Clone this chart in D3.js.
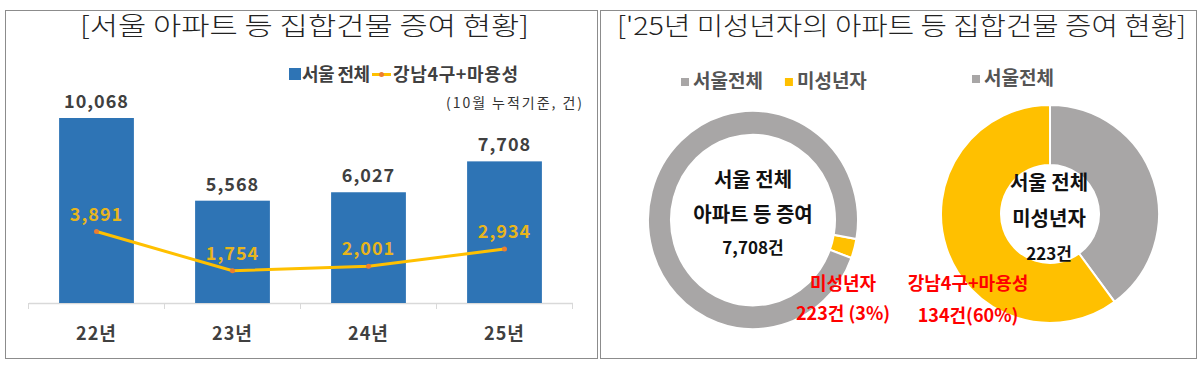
<!DOCTYPE html>
<html><head><meta charset="utf-8">
<script src="https://cdn.jsdelivr.net/npm/d3@7"></script>
<style>
html,body{margin:0;padding:0;background:#fff;}
svg{display:block;font-family:"Noto Sans CJK KR","Noto Sans",sans-serif;}
</style></head>
<body><svg id="c" width="1199" height="367"></svg>
<script>
// ---- data ----
const categories = ["22년", "23년", "24년", "25년"];
const seoulTotal = [10068, 5568, 6027, 7708];
const gangnamMayong = [3891, 1754, 2001, 2934];
const barLegend = ["서울 전체", "강남4구+마용성"];
const unitNote = "(10월 누적기준, 건)";

const donut1Labels = ["미성년자", "서울전체"];
const donut1Values = [223, 7485];
const donut1Center = ["서울 전체", "아파트 등 증여", "7,708건"];
const donut1Note = ["미성년자", "223건 (3%)"];

const donut2Labels = ["서울전체", "강남4구+마용성"];
const donut2Values = [89, 134];
const donut2Center = ["서울 전체", "미성년자", "223건"];
const donut2Note = ["강남4구+마용성", "134건(60%)"];

const titles = ["[서울 아파트 등 집합건물 증여 현황]", "['25년 미성년자의 아파트 등 집합건물 증여 현황]"];

// ---- drawing ----
const svg = d3.select("#c");
const BLUE = "#2E74B5", YEL = "#FFC000", GRAY = "#A8A6A6", DARK = "#404040";

// panel frames
svg.append("rect").attr("x", 5.5).attr("y", 10.5).attr("width", 592).attr("height", 348)
  .attr("fill", "none").attr("stroke", "#8c8c8c");
svg.append("rect").attr("x", 600.5).attr("y", 10.5).attr("width", 596).attr("height", 348)
  .attr("fill", "none").attr("stroke", "#8c8c8c");

// titles
svg.append("text").attr("x", 80).attr("y", 35).attr("textLength", 449).attr("lengthAdjust", "spacingAndGlyphs")
  .attr("font-size", 25).attr("font-weight", 300).attr("fill", "#222").text(titles[0]);
svg.append("text").attr("x", 617).attr("y", 35).attr("textLength", 569).attr("lengthAdjust", "spacingAndGlyphs")
  .attr("font-size", 25).attr("font-weight", 300).attr("fill", "#222").text(titles[1]);

// ---- bar + line chart ----
const x = d3.scaleBand().domain(categories).range([28.5, 572.5]).paddingInner(0.45).paddingOuter(0.225);
const y = d3.scaleLinear().domain([0, 12000]).range([303, 82.5]);

const g = svg.append("g");
const ax = g.append("g").attr("transform", "translate(0,303)")
  .call(d3.axisBottom(x).tickSize(0).tickFormat(""));
ax.select(".domain").attr("stroke", "#d9d9d9").attr("stroke-width", 1.5);
const bounds = [28.5].concat(categories.map(c => x(c) + x.bandwidth() + (x.step() - x.bandwidth()) / 2));
g.selectAll(".tk").data(bounds).join("line")
  .attr("x1", d => d).attr("x2", d => d).attr("y1", 303).attr("y2", 309)
  .attr("stroke", "#d9d9d9");

g.selectAll(".bar").data(seoulTotal).join("rect")
  .attr("x", (d, i) => x(categories[i])).attr("width", x.bandwidth())
  .attr("y", d => y(d)).attr("height", d => y(0) - y(d)).attr("fill", BLUE);

g.selectAll(".bl").data(seoulTotal).join("text")
  .attr("x", (d, i) => x(categories[i]) + x.bandwidth() / 2).attr("y", d => y(d) - 10)
  .attr("text-anchor", "middle").attr("font-size", 18).attr("font-weight", 700)
  .attr("letter-spacing", 1).attr("fill", DARK).text(d => d3.format(",")(d));

const cx = (d, i) => x(categories[i]) + x.bandwidth() / 2;
g.append("path").datum(gangnamMayong)
  .attr("d", d3.line().x(cx).y(d => y(d)))
  .attr("fill", "none").attr("stroke", YEL).attr("stroke-width", 3);
g.selectAll(".pt").data(gangnamMayong).join("circle")
  .attr("cx", cx).attr("cy", d => y(d)).attr("r", 2.5).attr("fill", "#ED7D31");
g.selectAll(".ll").data(gangnamMayong).join("text")
  .attr("x", cx).attr("y", d => y(d) - 11)
  .attr("text-anchor", "middle").attr("font-size", 18).attr("font-weight", 700)
  .attr("letter-spacing", 1).attr("fill", "#E8B51C").text(d => d3.format(",")(d));

g.selectAll(".cat").data(categories).join("text")
  .attr("x", d => x(d) + x.bandwidth() / 2).attr("y", 340)
  .attr("text-anchor", "middle").attr("font-size", 18).attr("font-weight", 700)
  .attr("letter-spacing", 1).attr("fill", DARK).text(d => d);

// legend
const lg = svg.append("g");
lg.append("rect").attr("x", 289).attr("y", 68).attr("width", 12).attr("height", 12).attr("fill", BLUE);
lg.append("text").attr("x", 302).attr("y", 81).attr("font-size", 18).attr("font-weight", 700)
  .attr("textLength", 68).attr("fill", DARK).text(barLegend[0]);
lg.append("line").attr("x1", 372).attr("x2", 391).attr("y1", 74.5).attr("y2", 74.5)
  .attr("stroke", YEL).attr("stroke-width", 3);
lg.append("circle").attr("cx", 381.5).attr("cy", 74.5).attr("r", 2.5).attr("fill", "#ED7D31");
lg.append("text").attr("x", 393).attr("y", 81).attr("font-size", 18).attr("font-weight", 700)
  .attr("textLength", 125).attr("fill", DARK).text(barLegend[1]);
svg.append("text").attr("x", 582).attr("y", 108).attr("text-anchor", "end").attr("font-size", 14)
  .attr("textLength", 136).attr("fill", "#333").text(unitNote);

// ---- donuts ----
function donut(cxp, cyp, rIn, rOut, sy, values, colors, startDeg) {
  const pie = d3.pie().sort(null).startAngle(startDeg * Math.PI / 180).endAngle((startDeg + 360) * Math.PI / 180);
  const arc = d3.arc().innerRadius(rIn).outerRadius(rOut);
  const dg = svg.append("g").attr("transform", `translate(${cxp},${cyp}) scale(1,${sy})`);
  dg.selectAll("path").data(pie(values)).join("path")
    .attr("d", arc).attr("fill", (d, i) => colors[i])
    .attr("stroke", "#fff").attr("stroke-width", 2);
}
donut(753, 220, 82, 105, 1.04, donut1Values, [YEL, GRAY], 100);
donut(1050, 214, 49, 109, 1, donut2Values, [GRAY, YEL], 0);

function centerText(cxp, ys, lines, sizes) {
  lines.forEach((t, i) => svg.append("text").attr("x", cxp).attr("y", ys[i])
    .attr("text-anchor", "middle").attr("font-size", sizes[i]).attr("font-weight", 700)
    .attr("fill", "#111").text(t));
}
centerText(753, [187, 222, 254], donut1Center, [20, 20, 17]);
centerText(1049, [190, 226, 260], donut2Center, [20, 20, 17]);

function redText(cxp, ys, lines) {
  lines.forEach((t, i) => svg.append("text").attr("x", cxp).attr("y", ys[i])
    .attr("text-anchor", "middle").attr("font-size", 18).attr("font-weight", 700)
    .attr("fill", "#FF0000").text(t));
}
redText(843, [290, 320], donut1Note);
redText(968, [290, 322], donut2Note);

// donut legends
function dLegend(x0, y0, labels, colors) {
  let xx = x0;
  labels.forEach((t, i) => {
    svg.append("rect").attr("x", xx).attr("y", y0 - 10).attr("width", 8).attr("height", 8).attr("fill", colors[i]);
    const tx = svg.append("text").attr("x", xx + 12).attr("y", y0).attr("font-size", 19).attr("font-weight", 700)
      .attr("fill", "#555").text(t);
    xx += 12 + tx.node().getComputedTextLength() + 22;
  });
}
dLegend(681, 88, ["서울전체", "미성년자"], [GRAY, YEL]);
dLegend(972, 85, ["서울전체"], [GRAY]);
</script></body></html>
